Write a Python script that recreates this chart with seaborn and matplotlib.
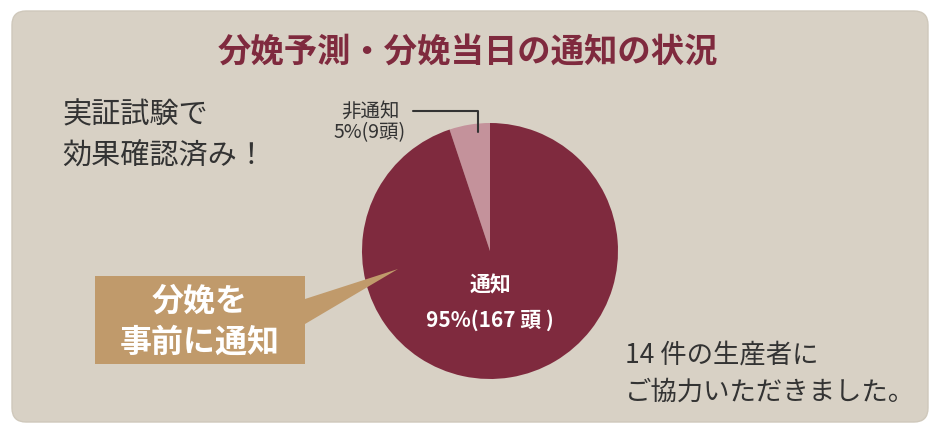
import matplotlib
matplotlib.use("Agg")
import matplotlib.pyplot as plt
import seaborn as sns
from matplotlib.patches import FancyBboxPatch, Polygon

sns.set_theme(style="white")
plt.rcParams['font.family'] = ['Noto Sans CJK JP', 'DejaVu Sans']

labels = ["非通知", "通知"]
values = [9, 167]
percents = [5, 95]
colors = ["#c4929b", "#7f2a3e"]
title = "分娩予測・分娩当日の通知の状況"

W, H = 940, 435
fig = plt.figure(figsize=(W/100, H/100), dpi=100)
fig.patch.set_facecolor("white")

bgback = fig.add_axes([0, 0, 1, 1], zorder=-1)
bgback.set_xlim(0, W); bgback.set_ylim(H, 0); bgback.axis("off")
bgback.add_patch(FancyBboxPatch((12, 12), W-24, H-24, boxstyle="round,pad=0,rounding_size=14",
                                fc="#d8d1c5", ec="#cfc8bb", lw=1))

cx, cy, r = 490, 252, 128
ax = fig.add_axes([(cx-r)/W, (H-cy-r)/H, 2*r/W, 2*r/H], zorder=0)
ax.pie(values, colors=colors, startangle=90, counterclock=True,
       wedgeprops=dict(edgecolor="none"))
ax.set_aspect("auto")
ax.set_xlim(-1, 1); ax.set_ylim(-1, 1)

bg = fig.add_axes([0, 0, 1, 1], zorder=1)
bg.set_xlim(0, W); bg.set_ylim(H, 0); bg.axis("off"); bg.patch.set_alpha(0)
bg.text(468, 52, title, ha="center", va="center", fontsize=24, fontweight="bold", color="#7f2a3e")
bg.text(62, 115, "実証試験で", fontsize=21, color="#333333", va="center")
bg.text(62, 157, "効果確認済み！", fontsize=21, color="#333333", va="center")
bg.text(625, 355, "14 件の生産者に", fontsize=19, color="#333333", va="center")
bg.text(625, 392, "ご協力いただきました。", fontsize=19, color="#333333", va="center")
bg.add_patch(Polygon([(95, 277), (305, 277), (305, 300), (398, 270), (305, 325), (305, 365), (95, 365)],
                     closed=True, fc="#c09a6b", ec="none"))
bg.text(200, 302, "分娩を", ha="center", va="center", fontsize=23, fontweight="bold", color="white")
bg.text(200, 343, "事前に通知", ha="center", va="center", fontsize=23, fontweight="bold", color="white")
bg.plot([413, 478, 478], [112, 112, 133], color="#333333", lw=1.5)
bg.text(370, 111, labels[0], ha="center", va="center", fontsize=14, color="#333333")
bg.text(370, 133, f"{percents[0]}%({values[0]}頭)", ha="center", va="center", fontsize=14, color="#333333")
bg.text(490, 285, labels[1], ha="center", va="center", fontsize=15, fontweight="bold", color="white")
bg.text(490, 320, f"{percents[1]}%({values[1]} 頭 )", ha="center", va="center", fontsize=15, fontweight="bold", color="white")
fig.savefig("out.png", dpi=100)
